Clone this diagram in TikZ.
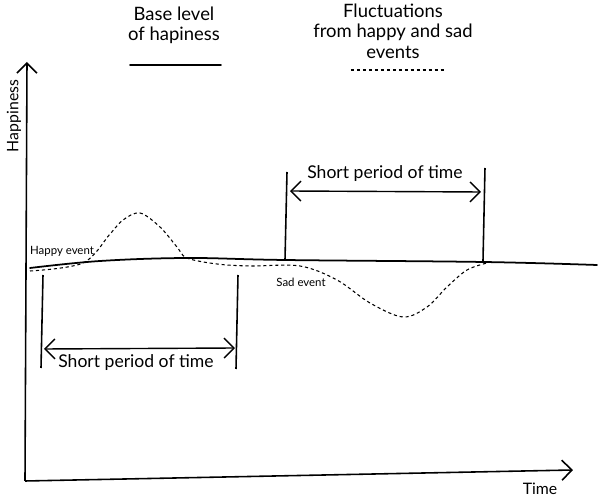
\documentclass[tikz,border=0pt]{standalone}
\usepackage{fontspec}
\setmainfont{Lato}
\usetikzlibrary{arrows.meta,positioning}
\tikzset{
  axis/.style={-{Straight Barb[length=2mm]},line width=.9pt},
  base/.style={line width=1pt,line cap=round},
  swing/.style={line width=.6pt,dash pattern=on 1.8pt off 1.6pt},
  bar/.style={line width=.9pt},
  span/.style={{Straight Barb[length=2mm]}-{Straight Barb[length=2mm]},line width=.8pt},
  legend/.style={font=\fontsize{10.5pt}{11.6pt}\selectfont,align=center},
  period/.style={font=\fontsize{10pt}{12pt}\selectfont},
  event/.style={font=\fontsize{6.5pt}{8pt}\selectfont}
}

\begin{document}
\begin{tikzpicture}[x=0.02cm,y=-0.02cm]
\useasboundingbox (0,0) rectangle (600,500);

% axes
\coordinate (origin) at (25,481);
\coordinate (ytop) at (27,62);
\coordinate (xend) at (573,470);
\draw[axis] (origin) -- (ytop);
\draw[axis] (origin) -- (xend);
\node[rotate=90,font=\small] (happiness) at (14,116) {Happiness};
\node[font=\small] (time) at (540,489) {Time};

% legend
\node[legend] (baselbl) at (174,25) {Base level\\of hapiness};
\node[legend] (fluctlbl) at (393,31) {Fluctuations\\from happy and sad\\events};
\coordinate (b1) at (130,65);
\coordinate (b2) at (221,65);
\coordinate (f1) at (351,70);
\coordinate (f2) at (444,70);
\draw[base] (b1) -- (b2);
\draw[swing] (f1) -- (f2);

% base level and fluctuations
\draw[base] plot[smooth,tension=.6] coordinates {(30,268) (100,261) (187,258) (285,260) (484,262) (597,265)};
\draw[swing] plot[smooth,tension=.55] coordinates {(30,271) (83,263) (110,234) (123,220) (140,213) (160,227) (177,247) (187,258) (217,264) (250,266) (300,266) (337,280) (370,303) (403,317) (427,307) (447,287) (467,270) (487,263)};
\node[event] (happyev) at (62,251) {Happy event};
\node[event] (sadev) at (301,282) {Sad event};

% short periods
\coordinate (l1t) at (43,275);
\coordinate (l1b) at (41,368);
\coordinate (l2t) at (238,275);
\coordinate (l2b) at (236,369);
\coordinate (r1t) at (287,172);
\coordinate (r1b) at (285,260);
\coordinate (r2t) at (485,168);
\coordinate (r2b) at (483,261);
\draw[bar] (l1t) -- (l1b);
\draw[bar] (l2t) -- (l2b);
\draw[bar] (r1t) -- (r1b);
\draw[bar] (r2t) -- (r2b);
\coordinate (la) at (44,349);
\coordinate (lb) at (235,348);
\coordinate (ra) at (290,191);
\coordinate (rb) at (481,192);
\draw[span] (la) -- (lb);
\draw[span] (ra) -- (rb);
\node[period] (leftper) at (136,363) {Short period of time};
\node[period] (rightper) at (385,174) {Short period of time};
\end{tikzpicture}
\end{document}
